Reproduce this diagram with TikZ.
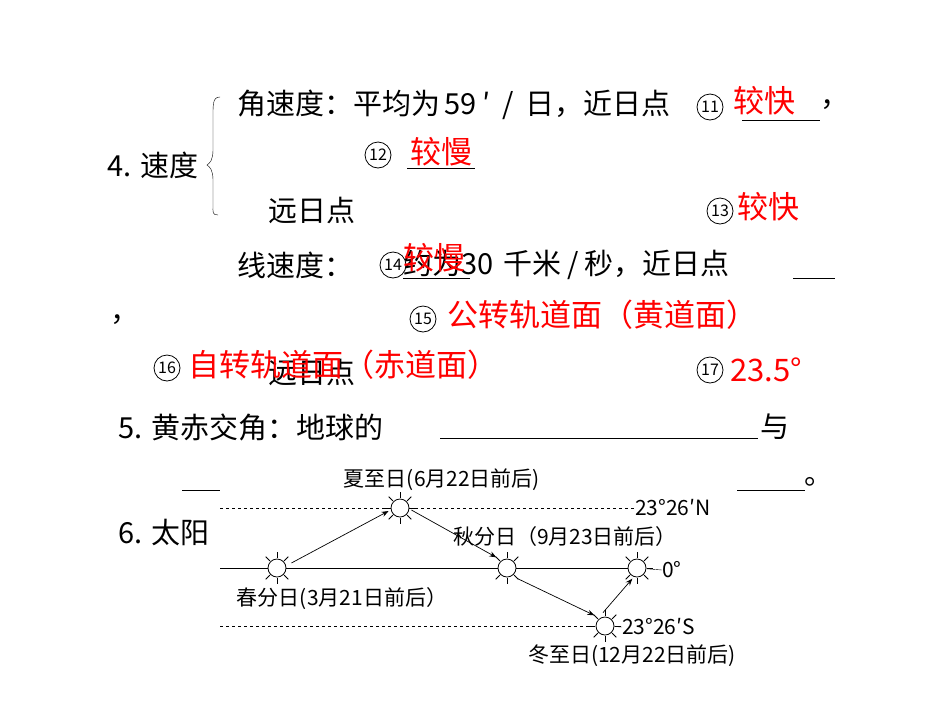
\documentclass[tikz,border=0pt]{standalone}
\usepackage{fontspec}
\setmainfont{Noto Sans CJK SC}
\usetikzlibrary{decorations.pathreplacing,arrows.meta}
\begin{document}
\begin{tikzpicture}[x=1pt,y=-1pt,
  txt/.style={anchor=west,inner sep=0pt,font=\fontsize{29}{32}\selectfont},
  red/.style={txt,text=red,font=\fontsize{31}{34}\selectfont},
  num/.style={circle,draw,thick,fill=white,inner sep=0pt,minimum size=26pt,font=\fontsize{16}{17}\selectfont},
  ul/.style={line width=0.9pt},
  lab/.style={inner sep=0pt,font=\fontsize{21}{23}\selectfont},
  sun/.style={circle,draw,thick,fill=white,minimum size=18pt,inner sep=0pt},
  arr/.style={-{Stealth[length=7pt]},line width=0.7pt}]
\useasboundingbox (0,0) rectangle (950,713);
% 4
\node[txt] (t4) at (107,165) {4. 速度};
\draw[thin] (220,97) .. controls (212,97) and (213,105) .. (213,125) -- (213,150) .. controls (213,160) and (210,163) .. (207,165) .. controls (210,167) and (213,170) .. (213,180) -- (213,205) .. controls (213,212) and (212,215) .. (218,215);
\node[txt] (a1) at (237,105) {角速度：平均为\hspace{4pt}59\hspace{6pt}′\hspace{12pt}/\hspace{12pt}日，近日点};
\node[num] (n11) at (710,107) {11};
\node[red] (r11) at (733,101) {较快};
\draw[ul] (742,120) -- (820,120);
\node[txt] (c1) at (820,105) {，};
\node[num] (n12) at (378,155) {12};
\node[red] (r12) at (410,152) {较慢};
\draw[ul] (407,168) -- (475,168);
\node[txt] (y1) at (268,210) {远日点};
\node[num] (n13) at (720,211) {13};
\node[red] (r13) at (737,207) {较快};
\node[txt] (a2) at (237,265) {线速度：};
\node[txt] (a3) at (403,265) {约为30\hspace{10pt}千米\hspace{6pt}/\hspace{6pt}秒，近日点};
\node[num] (n14) at (393,265) {14};
\node[red] (r14) at (403,258) {较慢};
\draw[ul] (403,278) -- (470,278);
\draw[ul] (793,278) -- (835,278);
\node[txt] (c2) at (110,320) {，};
\node[num] (n15) at (423,319) {15};
\node[red] (r15) at (447,315) {公转轨道面（黄道面）};
\node[num] (n16) at (167,368) {16};
\node[txt] (y2) at (268,372) {远日点};
\node[red] (r16) at (188,365) {自转轨道面（赤道面）};
\node[num] (n17) at (710,370) {17};
\node[red] (r17) at (730,370) {23.5°};
% 5
\node[txt] (t5) at (118,427) {5. 黄赤交角：地球的};
\draw[ul] (440,438) -- (758,438);
\node[txt] (yu) at (760,427) {与};
\draw[ul] (182,490) -- (220,490);
\draw[ul] (737,490) -- (805,490);
\node[txt] (p) at (804,482) {。};
\node[txt] (t6) at (118,533) {6. 太阳};
% diagram
\coordinate (d1) at (220,508); \coordinate (d2) at (220,568); \coordinate (d3) at (220,626);
\node[lab,anchor=west] (lN) at (635,508) {23°26′N};
\node[lab,anchor=west] (lS) at (622,627) {23°26′S};
\node[lab,anchor=west] (l0) at (662,570) {0°};
\foreach \n/\x/\y in {s1/277/568,s2/400/508,s3/507/568,s4/637/568,s5/605/626}{
  \foreach \a in {0,45,...,315}{\draw[thick] (\x,\y) ++(\a:10pt) -- ++(\a:6pt);}
  \node[sun] (\n) at (\x,\y) {};
}
\draw[dashed] (d1) -- (s2);
\draw[dashed] (s2) -- (lN.west);
\draw[dashed] (d3) -- (s5);
\draw (d2) -- (s1); \draw (s1) -- (s3); \draw (s3) -- (s4);
\draw (s5) -- (lS.west); \draw (s4) -- (l0.west);
\node[lab] (L2) at (442,480) {夏至日(6月22日前后)};
\node[lab] (L3) at (565,537) {秋分日（9月23日前后）};
\node[lab] (L1) at (342,599) {春分日(3月21日前后）};
\node[lab] (L5) at (632,656) {冬至日(12月22日前后)};
\draw[arr] ([shift={(5,-5)}]s1.east) -- ([shift={(-2,3)}]s2.west);
\draw[arr] ([shift={(2,2)}]s2.east) -- ([shift={(-4,-4)}]s3.north west);
\draw[arr] ([shift={(4,4)}]s3.south east) -- ([shift={(-4,-4)}]s5.north west);
\draw[arr] ([shift={(-2,-4)}]s5.north) -- ([shift={(2,4)}]s4.south west);
\end{tikzpicture}
\end{document}
